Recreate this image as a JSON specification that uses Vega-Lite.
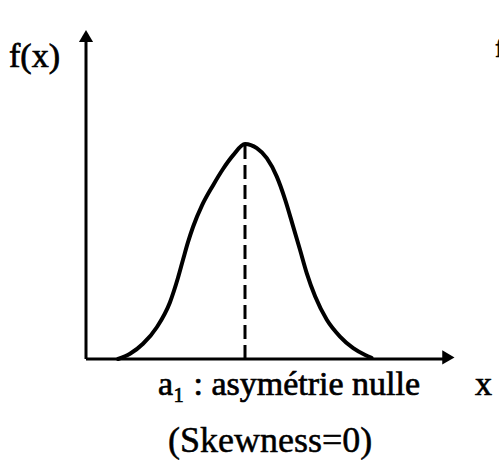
{
  "$schema": "https://vega.github.io/schema/vega-lite/v6.json",
  "width": 499,
  "height": 467,
  "autosize": {"type": "none"},
  "padding": 0,
  "background": "white",
  "config": {"view": {"stroke": null}},
  "datasets": {
    "axes": [
      {"x0": 0, "x1": 0, "y0": 0, "y1": 8.0},
      {"x0": 0, "x1": 8.95, "y0": 0, "y1": 0}
    ],
    "arrowUp": [{"x": 0, "y": 8.075}],
    "arrowRight": [{"x": 9.06, "y": 0.04}],
    "curve": [
      {"x": 0.80, "f": 0.0},
      {"x": 1.10, "f": 0.13},
      {"x": 1.425, "f": 0.38},
      {"x": 1.775, "f": 0.80},
      {"x": 2.10, "f": 1.42},
      {"x": 2.30, "f": 2.03},
      {"x": 2.425, "f": 2.48},
      {"x": 2.55, "f": 2.92},
      {"x": 2.675, "f": 3.30},
      {"x": 2.90, "f": 3.84},
      {"x": 3.175, "f": 4.34},
      {"x": 3.425, "f": 4.75},
      {"x": 3.675, "f": 5.09},
      {"x": 3.975, "f": 5.375},
      {"x": 4.27, "f": 5.27},
      {"x": 4.52, "f": 5.02},
      {"x": 4.77, "f": 4.56},
      {"x": 4.98, "f": 3.98},
      {"x": 5.18, "f": 3.31},
      {"x": 5.35, "f": 2.73},
      {"x": 5.52, "f": 2.14},
      {"x": 5.73, "f": 1.56},
      {"x": 6.02, "f": 0.98},
      {"x": 6.35, "f": 0.56},
      {"x": 6.68, "f": 0.27},
      {"x": 6.98, "f": 0.10},
      {"x": 7.14, "f": 0.03}
    ],
    "mode": [{"x": 3.975, "f0": 0, "f1": 5.375}],
    "labels": [
      {"x": -1.925, "y": 7.3, "text": "f(x)"},
      {"x": 1.8, "y": -0.9, "text": "a₁ : asymétrie nulle"},
      {"x": 9.725, "y": -0.9, "text": "x"}
    ],
    "note": [{"x": 2.05, "y": -2.325, "text": "(Skewness=0)"}],
    "nextPanel": [{"x": 10.225, "y": 7.55, "text": "f(x)"}]
  },
  "layer": [
    {
      "data": {"name": "axes"},
      "mark": {"type": "rule", "strokeWidth": 3, "color": "black"},
      "encoding": {
        "x": {"field": "x0", "type": "quantitative", "scale": {"domain": [-2.15, 10.325], "nice": false, "zero": false}, "axis": null},
        "x2": {"field": "x1"},
        "y": {"field": "y0", "type": "quantitative", "scale": {"domain": [-2.7, 8.975], "nice": false, "zero": false}, "axis": null},
        "y2": {"field": "y1"}
      }
    },
    {
      "data": {"name": "arrowUp"},
      "mark": {"type": "point", "shape": "triangle-up", "filled": true, "size": 200, "color": "black", "opacity": 1},
      "encoding": {
        "x": {"field": "x", "type": "quantitative"},
        "y": {"field": "y", "type": "quantitative"}
      }
    },
    {
      "data": {"name": "arrowRight"},
      "mark": {"type": "point", "shape": "triangle-right", "filled": true, "size": 200, "color": "black", "opacity": 1},
      "encoding": {
        "x": {"field": "x", "type": "quantitative"},
        "y": {"field": "y", "type": "quantitative"}
      }
    },
    {
      "data": {"name": "curve"},
      "mark": {"type": "line", "interpolate": "monotone", "strokeWidth": 4, "color": "black", "strokeCap": "round", "strokeJoin": "round"},
      "encoding": {
        "x": {"field": "x", "type": "quantitative"},
        "y": {"field": "f", "type": "quantitative"}
      }
    },
    {
      "data": {"name": "mode"},
      "mark": {"type": "rule", "strokeWidth": 3, "color": "black", "strokeDash": [14, 6]},
      "encoding": {
        "x": {"field": "x", "type": "quantitative"},
        "y": {"field": "f0", "type": "quantitative"},
        "y2": {"field": "f1"}
      }
    },
    {
      "data": {"name": "labels"},
      "mark": {"type": "text", "font": "Liberation Serif", "fontSize": 34, "align": "left", "baseline": "alphabetic", "color": "black", "stroke": "black", "strokeWidth": 0.7},
      "encoding": {
        "x": {"field": "x", "type": "quantitative"},
        "y": {"field": "y", "type": "quantitative"},
        "text": {"field": "text"}
      }
    },
    {
      "data": {"name": "note"},
      "mark": {"type": "text", "font": "Liberation Serif", "fontSize": 36, "align": "left", "baseline": "alphabetic", "color": "black", "stroke": "black", "strokeWidth": 0.5},
      "encoding": {
        "x": {"field": "x", "type": "quantitative"},
        "y": {"field": "y", "type": "quantitative"},
        "text": {"field": "text"}
      }
    },
    {
      "data": {"name": "nextPanel"},
      "mark": {"type": "text", "font": "Liberation Serif", "fontSize": 28, "align": "left", "baseline": "alphabetic", "color": "black", "stroke": "black", "strokeWidth": 0.7},
      "encoding": {
        "x": {"field": "x", "type": "quantitative"},
        "y": {"field": "y", "type": "quantitative"},
        "text": {"field": "text"}
      }
    }
  ]
}
